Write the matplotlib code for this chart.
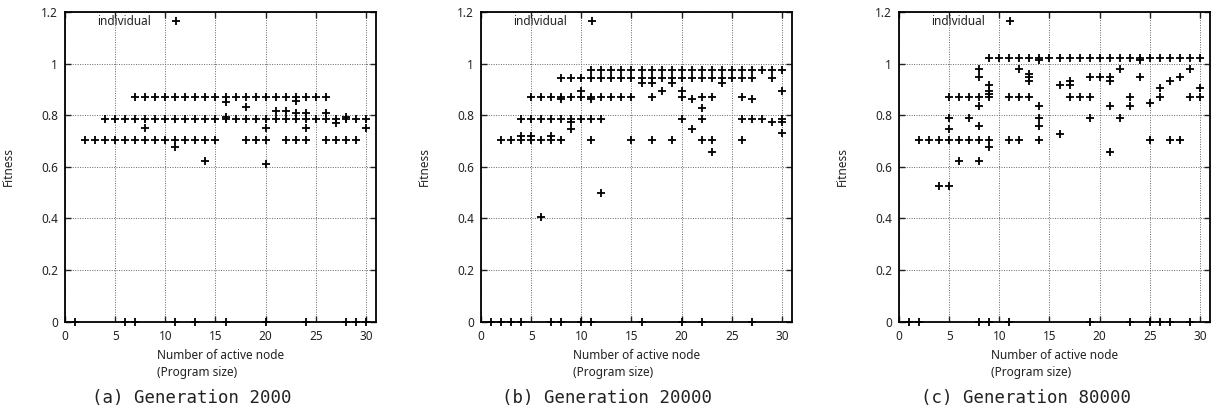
import matplotlib
matplotlib.use('Agg')
import matplotlib.pyplot as plt

plt.rcParams['font.family'] = ['Noto Sans', 'DejaVu Sans']

# fitness level -> program sizes of individuals sitting on it
gen2000 = {
    0.87: [7, 8, 9, 10, 11, 12, 13, 14, 15, 16, 17, 18, 19, 20, 21, 22, 23, 24, 25, 26],
    0.854: [23],
    0.85: [16],
    0.83: [18],
    0.817: [21, 22],
    0.81: [23, 24, 26],
    0.795: [16, 28],
    0.787: [4, 5, 6, 7, 8, 9, 10, 11, 12, 13, 14, 15, 16, 17, 18, 19, 20, 21, 22, 23,
            24, 25, 26, 27, 28, 29, 30],
    0.771: [27],
    0.75: [8, 20, 24, 30],
    0.704: [2, 3, 4, 5, 6, 7, 8, 9, 10, 11, 12, 13, 14, 15, 18, 19, 20, 22, 23, 24,
            26, 27, 28, 29],
    0.676: [11],
    0.624: [14],
    0.61: [20],
    0.0: [1, 6, 7, 11, 13, 16, 20, 24, 28, 29, 30],
}

gen20000 = {
    0.975: [11, 12, 13, 14, 15, 16, 17, 18, 19, 20, 21, 22, 23, 24, 25, 26, 27, 28, 29, 30],
    0.945: [8, 9, 10, 11, 12, 13, 14, 15, 16, 17, 18, 19, 20, 21, 22, 23, 24, 25, 26, 27, 29],
    0.924: [16, 17, 19, 24],
    0.895: [10, 18, 20, 30],
    0.87: [5, 6, 7, 8, 9, 10, 11, 12, 13, 14, 15, 17, 20, 22, 23, 26],
    0.864: [8, 11, 21, 27],
    0.827: [22],
    0.787: [4, 5, 6, 7, 8, 9, 10, 11, 12, 20, 22, 26, 27, 28, 30],
    0.775: [9, 29, 30],
    0.747: [9, 21],
    0.73: [30],
    0.718: [4, 5, 7],
    0.705: [2, 3, 4, 5, 6, 7, 8, 11, 15, 17, 19, 22, 23, 26],
    0.656: [23],
    0.5: [12],
    0.407: [6],
    0.0: [1, 2, 3, 4, 7, 8, 10, 11, 16, 20, 22, 27],
}

gen80000 = {
    1.022: [9, 10, 11, 12, 13, 14, 15, 16, 17, 18, 19, 20, 21, 22, 23, 24, 25, 26, 27,
            28, 29, 30],
    1.015: [14, 24],
    0.978: [8, 12, 22, 29],
    0.96: [13],
    0.947: [8, 13, 19, 20, 21, 24, 28],
    0.934: [13, 17, 21, 27],
    0.919: [9, 16, 17],
    0.905: [26, 30],
    0.893: [9],
    0.883: [9],
    0.87: [5, 6, 7, 8, 9, 11, 12, 13, 17, 18, 19, 23, 26, 29, 30],
    0.848: [25],
    0.836: [8, 14, 21, 23],
    0.788: [5, 7, 14, 19, 22],
    0.76: [8, 14],
    0.747: [5],
    0.726: [16],
    0.705: [2, 3, 4, 5, 6, 7, 8, 9, 11, 12, 14, 25, 27, 28],
    0.677: [9],
    0.656: [21],
    0.624: [6, 8],
    0.526: [4, 5],
    0.0: [1, 2, 8, 9, 11, 19, 23, 25, 26, 27, 29],
}

panels = [gen2000, gen20000, gen80000]
captions = ['(a) Generation 2000', '(b) Generation 20000', '(c) Generation 80000']
x_ticks = [0, 5, 10, 15, 20, 25, 30]
y_ticks = [0, 0.2, 0.4, 0.6, 0.8, 1.0, 1.2]
y_ticklabels = ['0', '0.2', '0.4', '0.6', '0.8', '1', '1.2']

fig = plt.figure(figsize=(12.11, 4.17), dpi=100)
lefts = [65, 481, 899]
caption_x = [192, 607, 1026]

for i, data in enumerate(panels):
    ax = fig.add_axes([lefts[i] / 1211, 1 - 321.7 / 417, 311 / 1211, 309.7 / 417])
    xs, ys = [], []
    for fit, sizes in data.items():
        xs += sizes
        ys += [fit] * len(sizes)
    ax.plot(xs, ys, '+', color='k', ms=5.5, mew=1.3, clip_on=False,
            label='individual', zorder=3)
    ax.set_xlim(0, 31)
    ax.set_ylim(0, 1.2)
    ax.set_xticks(x_ticks)
    ax.set_yticks(y_ticks)
    ax.set_yticklabels(y_ticklabels)
    ax.grid(True, linestyle=(0, (1, 1.5)), color='0.4', lw=0.7)
    ax.tick_params(direction='in', top=True, right=True, length=4, width=1,
                   labelsize=8.5, pad=5, colors='#222222')
    ax.tick_params(axis='x', pad=6)
    for s in ax.spines.values():
        s.set_linewidth(1.3)
    ax.set_ylabel('Fitness', fontsize=8.5, color='#222222')
    ax.yaxis.set_label_coords(-0.16, 0.5)
    ax.set_xlabel('Number of active node\n(Program size)', fontsize=8.5,
                  multialignment='left', linespacing=1.4, color='#222222')
    ax.legend(loc='upper left', bbox_to_anchor=(0.103, 0.99), frameon=False,
              markerfirst=False, numpoints=1, handlelength=1.6, handletextpad=1.3,
              borderpad=0, borderaxespad=0, fontsize=8.5, labelcolor='#222222')
    fig.text(caption_x[i] / 1211, 1 - 398 / 417, captions[i], ha='center',
             va='center', family='DejaVu Sans Mono', fontsize=12.5, color='#222222')

fig.savefig('out.png', dpi=100)
